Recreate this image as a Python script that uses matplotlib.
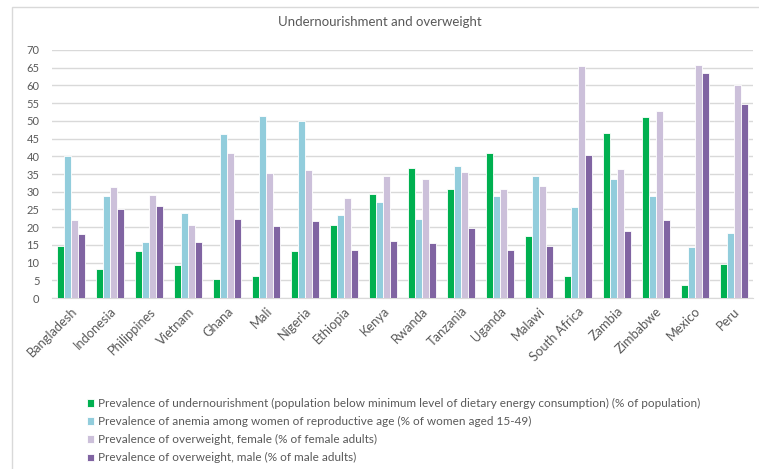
import matplotlib.pyplot as plt
import numpy as np
from matplotlib.patches import Rectangle

countries = ["Bangladesh", "Indonesia", "Philippines", "Vietnam", "Ghana", "Mali",
             "Nigeria", "Ethiopia", "Kenya", "Rwanda", "Tanzania", "Uganda", "Malawi",
             "South Africa", "Zambia", "Zimbabwe", "Mexico", "Peru"]

undernourishment = [14.7, 8.3, 13.3, 9.3, 5.5, 6.3, 13.4, 20.6, 29.4, 36.8, 30.7, 41.0,
                    17.5, 6.1, 46.6, 51.2, 3.6, 9.7]
anemia_women = [40.0, 28.8, 15.8, 24.1, 46.4, 51.4, 49.9, 23.4, 27.2, 22.4, 37.3, 28.7,
                34.5, 25.7, 33.7, 28.8, 14.5, 18.4]
overweight_female = [22.1, 31.3, 29.0, 20.6, 41.0, 35.2, 36.1, 28.1, 34.3, 33.6, 35.6, 30.8,
                     31.5, 65.4, 36.4, 52.8, 65.9, 60.0]
overweight_male = [18.1, 25.0, 26.1, 15.8, 22.2, 20.3, 21.6, 13.5, 16.1, 15.6, 19.7, 13.6,
                   14.8, 40.5, 19.0, 22.1, 63.6, 54.8]

labels = [
    "Prevalence of undernourishment (population below minimum level of dietary energy consumption) (% of population)",
    "Prevalence of anemia among women of reproductive age (% of women aged 15-49)",
    "Prevalence of overweight, female (% of female adults)",
    "Prevalence of overweight, male (% of male adults)",
]
colors = ["#00B050", "#92CDDC", "#CCC0DA", "#8064A2"]

grey = "#595959"
font = ["Lato", "DejaVu Sans"]

fig = plt.figure(figsize=(7.59, 4.69), dpi=100)
ax = fig.add_axes([52 / 759, 1 - 298 / 469, 701 / 759, 248 / 469])

# chart area frame
fig.patches.append(Rectangle((12 / 759, -0.1), 1.1, 1.1 - 7 / 469,
                             transform=fig.transFigure, fill=False,
                             edgecolor="#D9D9D9", lw=1.0))

x = np.arange(len(countries))
w = 0.18
series = [undernourishment, anemia_women, overweight_female, overweight_male]
for i, (vals, c, lab) in enumerate(zip(series, colors, labels)):
    ax.bar(x + (i - 1.5) * w, vals, width=w, color=c, edgecolor="white",
           linewidth=0.6, label=lab, zorder=3)

ax.set_xlim(-0.5, len(countries) - 0.5)
ax.set_ylim(0, 70)
ax.set_yticks(range(0, 71, 5))
ax.yaxis.grid(True, color="#D9D9D9", lw=1.0, zorder=0)
for s in ["top", "right", "left"]:
    ax.spines[s].set_visible(False)
ax.spines["bottom"].set_color("#D9D9D9")
ax.tick_params(axis="both", length=0, colors=grey, labelsize=8)
ax.tick_params(axis="y", pad=9)
ax.tick_params(axis="x", pad=5)
ax.set_xticks(x)
ax.set_xticklabels(countries, rotation=45, ha="right", rotation_mode="anchor",
                   family=font, fontsize=9.3)
for t in ax.get_yticklabels():
    t.set_family(font)

fig.text(0.5, 1 - 22 / 469, "Undernourishment and overweight", ha="center", va="center",
         color=grey, fontsize=9.5, family=font)

handles, labs = ax.get_legend_handles_labels()
leg = fig.legend(handles, labs, loc="upper left", bbox_to_anchor=(87 / 759, 1 - 398 / 469),
                 frameon=False, handlelength=0.6, handleheight=0.6, handletextpad=0.3,
                 labelspacing=0.6, borderaxespad=0, borderpad=0,
                 prop={"family": font, "size": 8.5})
for t in leg.get_texts():
    t.set_color(grey)

fig.savefig("out.png", dpi=100)
